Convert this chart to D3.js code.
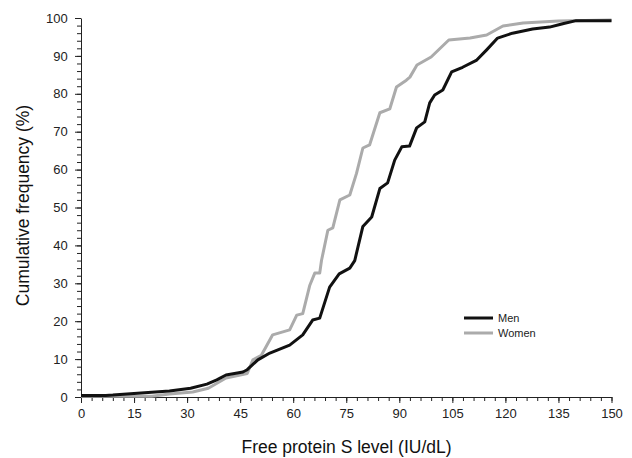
<!DOCTYPE html>
<html>
<head>
<meta charset="utf-8">
<script src="https://cdn.jsdelivr.net/npm/d3@7"></script>
<style>
  body { margin: 0; background: #fff; }
  svg { font-family: "Liberation Sans", Arial, sans-serif; }
</style>
</head>
<body>
<div id="chart"></div>
<script>
// free protein S level (IU/dL) vs cumulative frequency (%)
const menLevel = [0, 7, 9, 16, 25, 31, 35.6, 38.4, 41, 45.8, 47, 50, 53.4, 59, 62.7, 65.5, 67.5, 70.3, 73, 76, 77.4, 79.7, 82.2, 84.5, 86.7, 88.7, 90.7, 92.9, 94.9, 97.2, 98.6, 100, 102.3, 104.8, 107.9, 111.9, 114.7, 117.8, 122, 127.7, 132.5, 136.2, 140, 150];
const menFreq  = [0.4, 0.4, 0.5, 1, 1.6, 2.3, 3.4, 4.5, 5.8, 6.6, 7.2, 9.8, 11.6, 13.7, 16.4, 20.3, 20.8, 29, 32.5, 34, 36, 45, 47.5, 55, 56.5, 62.5, 66, 66.2, 71, 72.6, 77.6, 79.7, 81, 85.8, 87, 88.9, 91.6, 94.7, 96, 97.1, 97.6, 98.5, 99.3, 99.3];

const womenLevel = [0, 20, 25, 31.6, 36, 41, 47, 48.6, 51, 54.2, 59, 61, 62.7, 64.7, 66.1, 67.5, 68, 69.8, 71.2, 73.2, 76, 77.9, 79.7, 81.6, 84.5, 87.3, 89.2, 92, 93, 95, 99, 104, 110, 114.7, 119.3, 125, 135, 150];
const womenFreq  = [0.2, 0.2, 0.8, 1.3, 2.3, 5, 6.2, 9.8, 11, 16.4, 17.7, 21.6, 22, 29.5, 32.7, 32.7, 36, 44, 44.6, 52, 53.3, 59, 65.7, 66.5, 75, 76, 81.8, 83.6, 84.4, 87.6, 89.7, 94.2, 94.7, 95.5, 97.9, 98.7, 99.2, 99.5];

const xTicks = [0, 15, 30, 45, 60, 75, 90, 105, 120, 135, 150];
const yTicks = [0, 10, 20, 30, 40, 50, 60, 70, 80, 90, 100];
const seriesNames = ['Men', 'Women'];

const W = 632, H = 458;
const margin = { top: 18, right: 20, bottom: 61, left: 81 };
const width = W - margin.left - margin.right;
const height = H - margin.top - margin.bottom;

const svg = d3.select('#chart').append('svg')
  .attr('width', W)
  .attr('height', H);

const g = svg.append('g')
  .attr('transform', `translate(${margin.left}, ${margin.top})`);

const x = d3.scaleLinear().domain([0, 150]).range([0, width - 0.5]);
const y = d3.scaleLinear().domain([0, 100]).range([height, 0]);

// minor ticks first
g.append('g')
  .attr('transform', `translate(0, ${height})`)
  .call(d3.axisBottom(x).tickValues(d3.range(0, 151, 3)).tickSize(4).tickFormat(''))
  .call(a => a.select('.domain').remove());
g.append('g')
  .call(d3.axisLeft(y).tickValues(d3.range(0, 101, 2)).tickSize(4).tickFormat(''))
  .call(a => a.select('.domain').remove());

// major ticks + labels
const gx = g.append('g')
  .attr('transform', `translate(0, ${height})`)
  .call(d3.axisBottom(x).tickValues(xTicks).tickSize(6).tickSizeOuter(0).tickPadding(6));
const gy = g.append('g')
  .call(d3.axisLeft(y).tickValues(yTicks).tickSize(6).tickSizeOuter(0).tickPadding(6));

svg.selectAll('.tick text').attr('font-size', 13).attr('fill', '#222')
  .attr('font-family', '"Liberation Sans", Arial, sans-serif');
svg.selectAll('.tick line, .domain').attr('stroke', '#222');
gy.selectAll('.tick text').attr('dx', '-0.1em');

// lines (women first so men sits on top where they overlap)
const line = d3.line().x(d => x(d[0])).y(d => y(d[1]));
const men = d3.zip(menLevel, menFreq);
const women = d3.zip(womenLevel, womenFreq);

g.append('path').datum(women)
  .attr('fill', 'none').attr('stroke', '#ababab').attr('stroke-width', 3)
  .attr('stroke-linejoin', 'round')
  .attr('d', line);
g.append('path').datum(men)
  .attr('fill', 'none').attr('stroke', '#111').attr('stroke-width', 3)
  .attr('stroke-linejoin', 'round')
  .attr('d', line);

// axis titles
svg.append('text')
  .attr('x', margin.left + width / 2)
  .attr('y', 453)
  .attr('text-anchor', 'middle')
  .attr('font-size', 17.5)
  .attr('fill', '#111')
  .text('Free protein S level (IU/dL)');
svg.append('text')
  .attr('transform', `translate(29, ${margin.top + height / 2 - 2}) rotate(-90)`)
  .attr('text-anchor', 'middle')
  .attr('font-size', 17.5)
  .attr('fill', '#111')
  .text('Cumulative frequency (%)');

// legend
const legend = svg.append('g').attr('transform', 'translate(464, 318)');
const colors = ['#111', '#ababab'];
seriesNames.forEach((name, i) => {
  legend.append('line')
    .attr('x1', 0).attr('x2', 29)
    .attr('y1', i * 15).attr('y2', i * 15)
    .attr('stroke', colors[i]).attr('stroke-width', 3);
  legend.append('text')
    .attr('x', 34).attr('y', i * 15 + 4)
    .attr('font-size', 11)
    .attr('fill', '#222')
    .text(name);
});
</script>
</body>
</html>
